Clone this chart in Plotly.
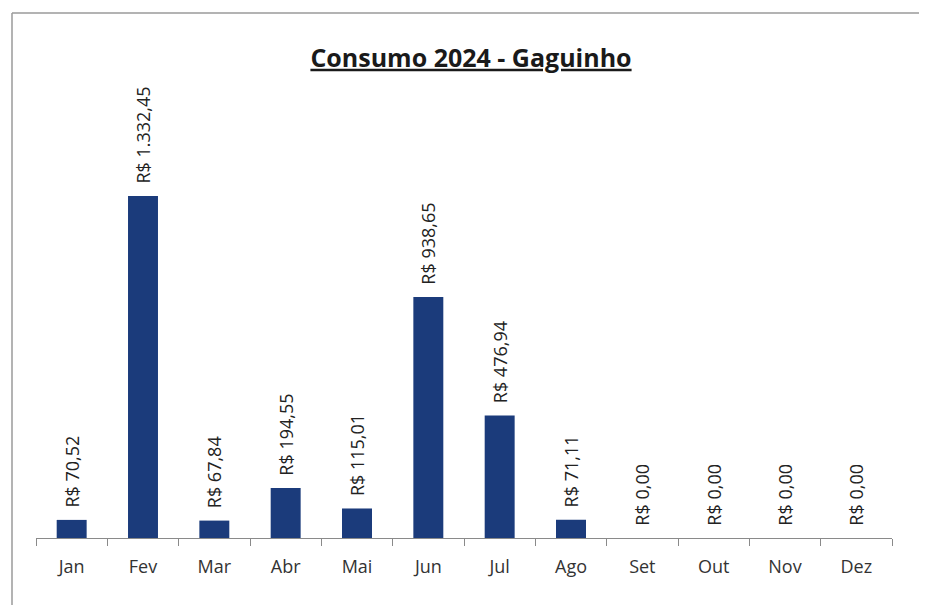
import plotly.graph_objects as go

months = ["Jan", "Fev", "Mar", "Abr", "Mai", "Jun", "Jul", "Ago", "Set", "Out", "Nov", "Dez"]
values = [70.52, 1332.45, 67.84, 194.55, 115.01, 938.65, 476.94, 71.11, 0.00, 0.00, 0.00, 0.00]
title_text = "Consumo 2024 - Gaguinho"


def brl(v):
    s = f"{v:,.2f}"
    s = s.replace(",", "X").replace(".", ",").replace("X", ".")
    return "\u00a0\u00a0R$ " + s


labels = [brl(v) for v in values]

# page body has an 8px default margin; size the figure to fit the window
OFF = 8
W, H = 927 - OFF, 605 - OFF
ml, mr, mt, mb = 36 - OFF, 35, 100 - OFF, 67
ph = H - mt - mb
pw = W - ml - mr

fig = go.Figure(
    go.Bar(
        x=months,
        y=values,
        text=labels,
        textposition="outside",
        textangle=-90,
        constraintext="none",
        cliponaxis=False,
        marker=dict(color="#1B3B7B", line=dict(width=0)),
        textfont=dict(family="Open Sans", size=18, color="#222222"),
        width=0.42,
    )
)

fig.update_layout(
    width=W,
    height=H,
    margin=dict(l=ml, r=mr, t=mt, b=mb),
    paper_bgcolor="white",
    plot_bgcolor="white",
    showlegend=False,
    title=dict(
        text=f"<b><u>{title_text}</u></b>",
        x=(471 - OFF) / W,
        xanchor="center",
        y=1 - (58 - OFF) / H,
        yanchor="middle",
        font=dict(family="Open Sans", size=25, color="#1a1a1a"),
    ),
    xaxis=dict(
        showline=True,
        linecolor="#8a8a8a",
        linewidth=1,
        ticks="outside",
        tickson="boundaries",
        ticklen=7,
        tickcolor="#8a8a8a",
        tickfont=dict(family="Open Sans", size=18, color="#333333"),
        ticklabelstandoff=12,
        showgrid=False,
        zeroline=False,
    ),
    yaxis=dict(
        visible=False,
        range=[0, ph / 0.2567],
        showgrid=False,
        zeroline=False,
    ),
    shapes=[
        dict(type="line", xref="paper", yref="paper",
             x0=(12 - 36) / pw, x1=(12 - 36) / pw,
             y0=(538 - 605) / ph, y1=(538 - 13) / ph,
             line=dict(color="#9a9a9a", width=1.5)),
        dict(type="line", xref="paper", yref="paper",
             x0=(12 - 36) / pw, x1=(927 - 36) / pw,
             y0=(538 - 13) / ph, y1=(538 - 13) / ph,
             line=dict(color="#9a9a9a", width=1.5)),
    ],
)

fig.write_html("out.html")
